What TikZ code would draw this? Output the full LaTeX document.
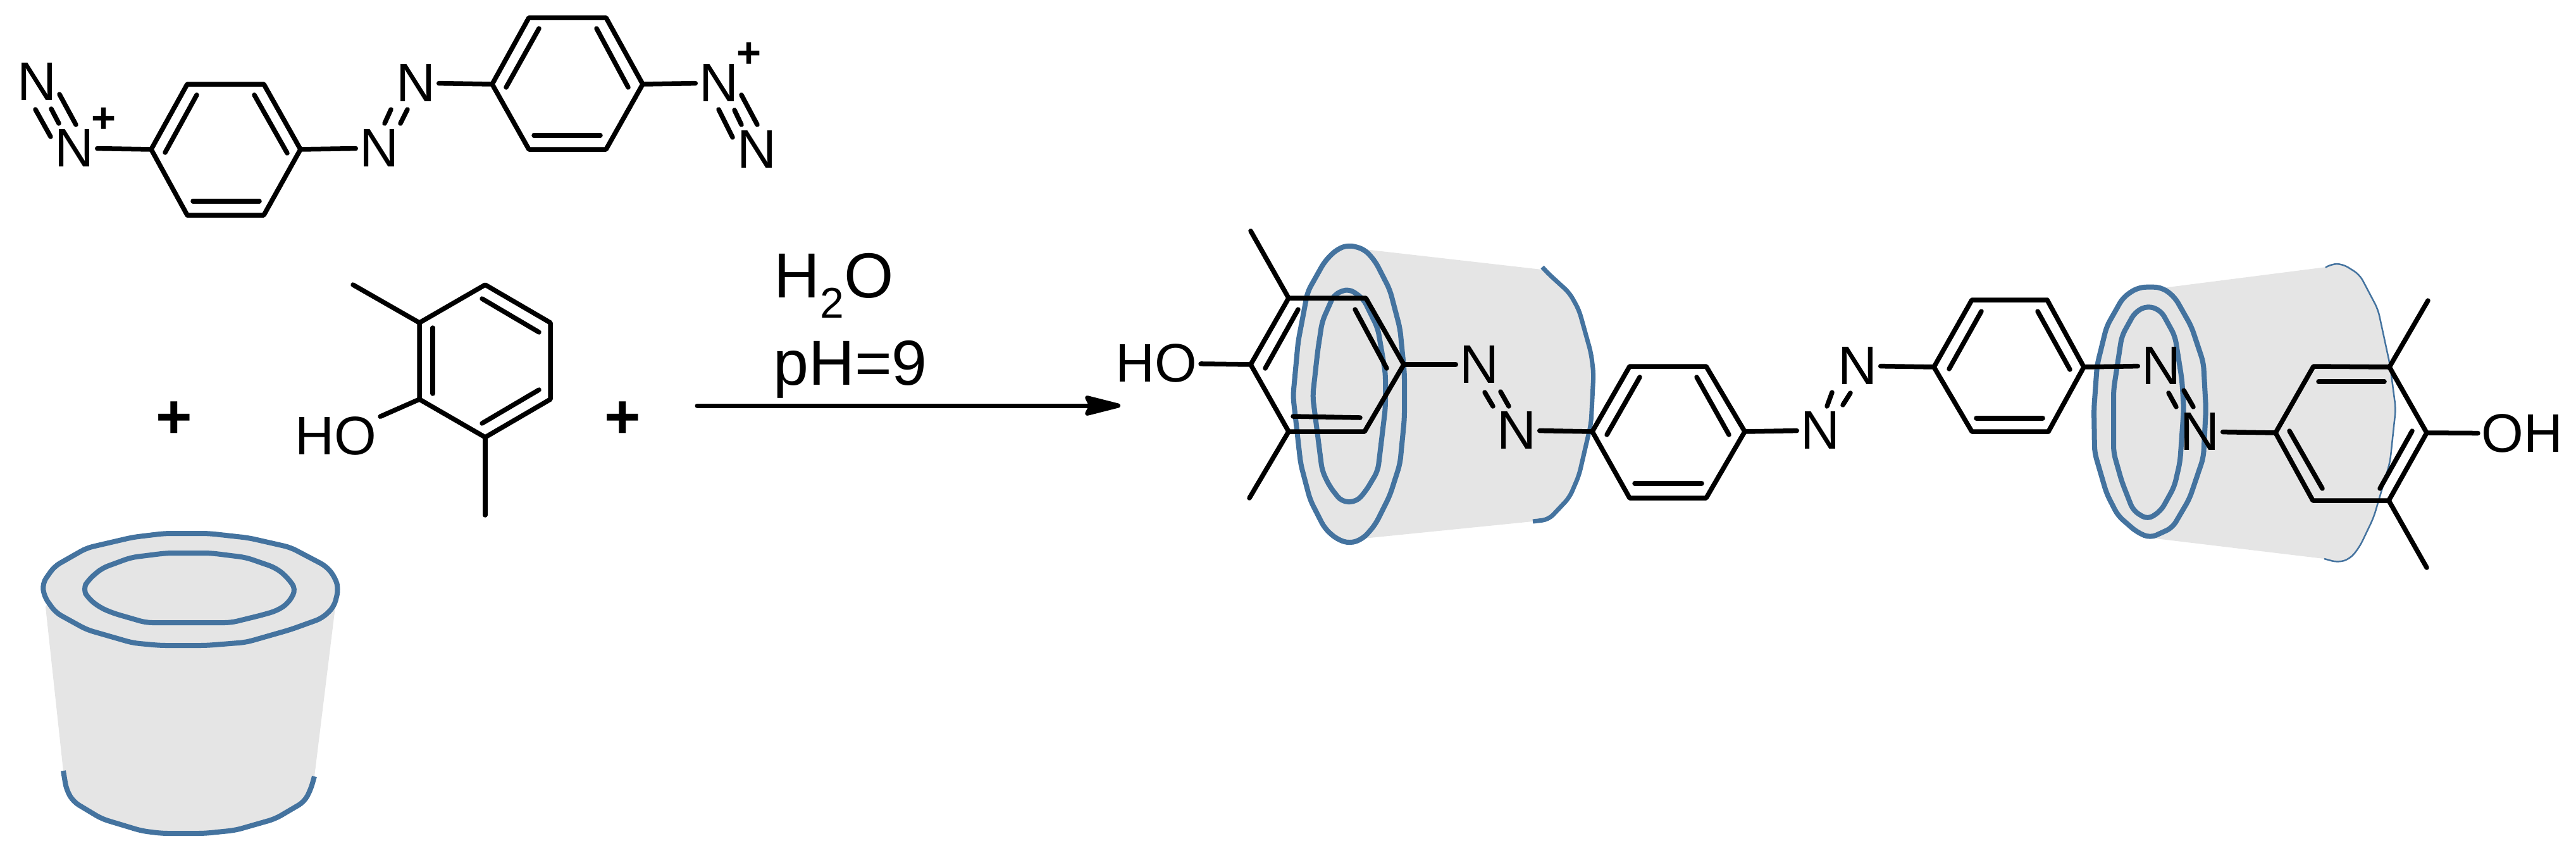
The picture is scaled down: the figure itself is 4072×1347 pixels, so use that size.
\documentclass[tikz,border=0pt]{standalone}
\usepackage{fontspec}
\setmainfont{Liberation Sans}
\usetikzlibrary{arrows.meta}
\definecolor{cupblue}{HTML}{44739F}
\definecolor{cupgray}{HTML}{E5E5E5}
\tikzset{
  bond/.style={line width=0.075cm, line cap=round, line join=round},
  atom/.style={inner sep=0.05cm, font=\fontsize{24.4}{26}\selectfont},
  charge/.style={inner sep=0pt, font=\bfseries\fontsize{19}{20}\selectfont},
  bigplus/.style={inner sep=0pt, font=\bfseries\fontsize{28}{30}\selectfont},
  reagent/.style={inner sep=0pt, anchor=base west, font=\fontsize{28.6}{31}\selectfont},
  cupline/.style={cupblue, line width=0.08cm, line join=round, rounded corners=0.1cm},
  cupfill/.style={fill=cupgray, draw=none},
}
\begin{document}
\begin{tikzpicture}[x=0.01cm, y=-0.01cm]
    \useasboundingbox (0,0) rectangle (4072,1347);
    % Cups, gray part first
    \fill[cupfill] (72,959) -- (137,866) -- (260,843) -- (393,850) -- (530,959)
    -- (497,1227) -- (491,1248) -- (481,1267) -- (435,1294) -- (372,1312) -- (323,1317)
    -- (256,1317) -- (224,1313) -- (161,1294) -- (116,1267) -- (105,1248) -- (100,1218) -- cycle;
    \fill[cupfill] (67,922) -- (86,895) -- (137,866) -- (210,849) -- (260,843) -- (330,843)
    -- (393,850) -- (459,865) -- (516,895) -- (530,913) -- (535,931) -- (528,959) -- (509,977)
    -- (459,995) -- (389,1015) -- (326,1020) -- (253,1020) -- (210,1016) -- (137,995) -- (88,968) -- (70,943) -- cycle;
    \fill[cupfill] (2132,387) -- (2157,394) -- (2446,427) -- (2481,463) -- (2496,490) -- (2515,558)
    -- (2519,590) -- (2515,669) -- (2496,751) -- (2481,786) -- (2448,821) -- (2423,824) -- (2155,851)
    -- (2134,859) -- (2113,852) -- (2094,835) -- (2071,790) -- (2056,733) -- (2044,626) -- (2052,540)
    -- (2067,461) -- (2094,413) -- (2113,394) -- cycle;
    \fill[cupfill] (3399,453) -- (3419,455) -- (3677,422) -- (3685,417) -- (3703,417) -- (3730,434)
    -- (3759,489) -- (3778,577) -- (3787,646) -- (3778,730) -- (3752,818) -- (3730,864) -- (3715,883)
    -- (3696,889) -- (3674,883) -- (3399,850) -- (3378,841) -- (3348,815) -- (3330,780) -- (3311,715)
    -- (3310,646) -- (3315,577) -- (3330,516) -- (3356,470) -- (3378,455) -- cycle;

    % Cup alone
    \draw[cupline] (67,922) -- (86,895) -- (137,866) -- (210,849) -- (260,843) -- (330,843)
    -- (393,850) -- (459,865) -- (516,895) -- (530,913) -- (535,931) -- (528,959) -- (509,977)
    -- (459,995) -- (389,1015) -- (326,1020) -- (253,1020) -- (210,1016) -- (137,995) -- (88,968) -- (70,943) -- cycle;
    \draw[cupline] (131,931) -- (140,916) -- (161,898) -- (207,881) -- (263,874) -- (333,874) -- (389,881)
    -- (435,897) -- (452,910) -- (468,931) -- (456,953) -- (438,965) -- (414,972) -- (365,984)
    -- (231,984) -- (179,969) -- (158,960) -- (140,946) -- cycle;
    \draw[cupline] (100,1218) -- (105,1248) -- (116,1267) -- (161,1294) -- (224,1313) -- (256,1317)
    -- (323,1317) -- (372,1312) -- (435,1294) -- (481,1267) -- (491,1248) -- (497,1227);

    % Cup on the left ring
    \draw[cupline] (2132,387) -- (2157,394) -- (2174,413) -- (2197,458) -- (2213,519) -- (2220,590)
    -- (2220,661) -- (2213,733) -- (2197,783) -- (2174,829) -- (2155,851) -- (2134,859) -- (2113,852)
    -- (2094,835) -- (2071,790) -- (2056,733) -- (2044,626) -- (2052,540) -- (2067,461) -- (2094,413) -- (2113,394) -- cycle;
    \draw[cupline] (2132,456) -- (2155,472) -- (2178,519) -- (2190,590) -- (2190,644) -- (2178,744)
    -- (2159,776) -- (2144,793) -- (2121,793) -- (2102,769) -- (2090,744) -- (2075,626) -- (2083,554)
    -- (2090,508) -- (2109,465) -- cycle;
    \draw[cupline, line width=0.07cm] (2438,422) -- (2446,431) -- (2481,463) -- (2496,490) -- (2515,558)
    -- (2519,590) -- (2515,669) -- (2496,751) -- (2481,786) -- (2448,821) -- (2423,824);

    % Cup on the right ring
    \draw[cupline] (3399,453) -- (3419,455) -- (3438,470) -- (3464,516) -- (3483,573) -- (3487,646)
    -- (3483,723) -- (3461,788) -- (3434,834) -- (3399,850) -- (3378,841) -- (3348,815) -- (3330,780)
    -- (3311,715) -- (3310,646) -- (3315,577) -- (3330,516) -- (3356,470) -- (3378,455) -- cycle;
    \draw[cupline] (3395,483) -- (3416,491) -- (3438,531) -- (3449,600) -- (3452,646) -- (3446,730)
    -- (3437,769) -- (3416,807) -- (3395,821) -- (3372,807) -- (3354,761) -- (3341,715) -- (3341,616)
    -- (3354,531) -- (3375,493) -- cycle;
    \draw[cupline, line width=0.025cm] (3677,422) -- (3685,417) -- (3703,417) -- (3730,434) -- (3759,489)
    -- (3778,577) -- (3787,646) -- (3778,730) -- (3752,818) -- (3730,864) -- (3715,883) -- (3696,889) -- (3674,883);

    % Diazonium salt
    \draw[bond] (239,236) coordinate (a1) -- (296,133) -- (417,133) -- (475,236) coordinate (a2) -- (417,340) -- (296,340) -- cycle;
    \draw[bond] (311,150) -- (261,241);
    \draw[bond] (402,150) -- (454,242);
    \draw[bond] (305,318) -- (410,318);
    \draw[bond] (778,133) coordinate (b1) -- (836,28) -- (958,28) -- (1016,133) coordinate (b2) -- (958,236) -- (836,236) -- cycle;
    \draw[bond] (852,45) -- (800,138);
    \draw[bond] (943,45) -- (993,138);
    \draw[bond] (844,214) -- (949,214);
    \node[atom] (salt1) at (58,129) {N};
    \node[atom] (salt2) at (117,234) {N};
    \node[charge] (saltplus1) at (164,190) {+};
    \node[atom] (salt3) at (599,234) {N};
    \node[atom] (salt4) at (657,131) {N};
    \node[atom] (salt5) at (1136,131) {N};
    \node[charge] (saltplus2) at (1184,87) {+};
    \node[atom] (salt6) at (1196,236) {N};
    \draw[bond] (salt2) -- (a1);
    \draw[bond] (a2) -- (salt3);
    \draw[bond] (salt4) -- (b1);
    \draw[bond] (b2) -- (salt5);
    \draw[bond] (56,173) -- (80,216);
    \draw[bond] (81,172) -- (93,195);
    \draw[bond] (94,149) -- (120,197);
    \draw[bond] (618,173) -- (608,195);
    \draw[bond] (644,173) -- (633,195);
    \draw[bond] (1136,173) -- (1158,217);
    \draw[bond] (1161,174) -- (1172,197);
    \draw[bond] (1172,150) -- (1197,197);

    % Xylenol
    \draw[bond] (663,510) coordinate (c1) -- (767,450) -- (870,510) -- (870,631) -- (767,691) coordinate (c2) -- (663,631) coordinate (c3) -- cycle;
    \draw[bond] (684,518) -- (684,622);
    \draw[bond] (762,472) -- (852,525);
    \draw[bond] (762,669) -- (852,616);
    \coordinate (me1) at (558,450);
    \coordinate (me2) at (767,814);
    \draw[bond] (me1) -- (c1);
    \draw[bond] (c2) -- (me2);
    \node[atom] (ho1) at (531,689) {HO};
    \draw[bond] (c3) -- (ho1);
    \node[bigplus] (plus1) at (275,664) {+};
    \node[bigplus] (plus2) at (984,664) {+};

    % Arrow
    \coordinate (arrowstart) at (1102,641);
    \coordinate (arrowend) at (1771,641);
    \draw[line width=0.07cm, line cap=round, -{Stealth[length=0.69cm, width=0.34cm, inset=0.08cm, round]}] (arrowstart) -- (arrowend);
    \node[reagent] (water) at (1223,470) {H\raisebox{-0.32cm}{\fontsize{19.3}{20}\selectfont 2}O};
    \node[reagent] (ph) at (1222,608) {pH=9};

    % Product
    \draw[bond] (1977,576) coordinate (d1) -- (2037,471) coordinate (d2) -- (2159,471) -- (2219,576) coordinate (d3) -- (2157,682) -- (2037,682) coordinate (d4) -- cycle;
    \draw[bond] (2052,489) -- (2000,582);
    \draw[bond] (2142,489) -- (2192,582);
    \draw[bond] (2044,658) -- (2150,660);
    \draw[bond] (2517,682) coordinate (e1) -- (2576,579) -- (2697,579) -- (2758,682) coordinate (e2) -- (2697,787) -- (2576,787) -- cycle;
    \draw[bond] (2592,596) -- (2540,687);
    \draw[bond] (2682,596) -- (2733,687);
    \draw[bond] (2584,764) -- (2690,764);
    \draw[bond] (3057,580) coordinate (f1) -- (3117,474) -- (3236,474) -- (3294,580) coordinate (f2) -- (3238,682) -- (3117,682) -- cycle;
    \draw[bond] (3132,492) -- (3081,583);
    \draw[bond] (3221,492) -- (3272,584);
    \draw[bond] (3124,661) -- (3229,661);
    \draw[bond] (3597,684) coordinate (g1) -- (3657,579) -- (3777,580) coordinate (g2) -- (3836,684) coordinate (g3) -- (3776,791) coordinate (g4) -- (3656,791) -- cycle;
    \draw[bond] (3665,603) -- (3769,603);
    \draw[bond] (3619,681) -- (3671,772);
    \draw[bond] (3813,681) -- (3762,772);
    \coordinate (me3) at (1977,365);
    \coordinate (me4) at (1975,787);
    \coordinate (me5) at (3838,475);
    \coordinate (me6) at (3836,897);
    \draw[bond] (me3) -- (d2);
    \draw[bond] (me4) -- (d4);
    \draw[bond] (g2) -- (me5);
    \draw[bond] (g4) -- (me6);
    \node[atom] (ho2) at (1828,574) {HO};
    \node[atom] (azo1) at (2338,576) {N};
    \node[atom] (azo2) at (2397,680) {N};
    \node[atom] (azo3) at (2877,680) {N};
    \node[atom] (azo4) at (2936,578) {N};
    \node[atom] (azo5) at (3416,578) {N};
    \node[atom] (azo6) at (3477,682) {N};
    \node[atom] (ho3) at (3987,685) {OH};
    \draw[bond] (ho2) -- (d1);
    \draw[bond] (d3) -- (azo1);
    \draw[bond] (azo2) -- (e1);
    \draw[bond] (e2) -- (azo3);
    \draw[bond] (azo4) -- (f1);
    \draw[bond] (f2) -- (azo5);
    \draw[bond] (azo6) -- (g1);
    \draw[bond] (g3) -- (ho3);
    \draw[bond] (2347,620) -- (2360,642);
    \draw[bond] (2372,619) -- (2385,642);
    \draw[bond] (2925,621) -- (2913,640);
    \draw[bond] (2896,620) -- (2888,642);
    \draw[bond] (3428,621) -- (3440,643);
    \draw[bond] (3452,617) -- (3467,643);
\end{tikzpicture}
\end{document}
